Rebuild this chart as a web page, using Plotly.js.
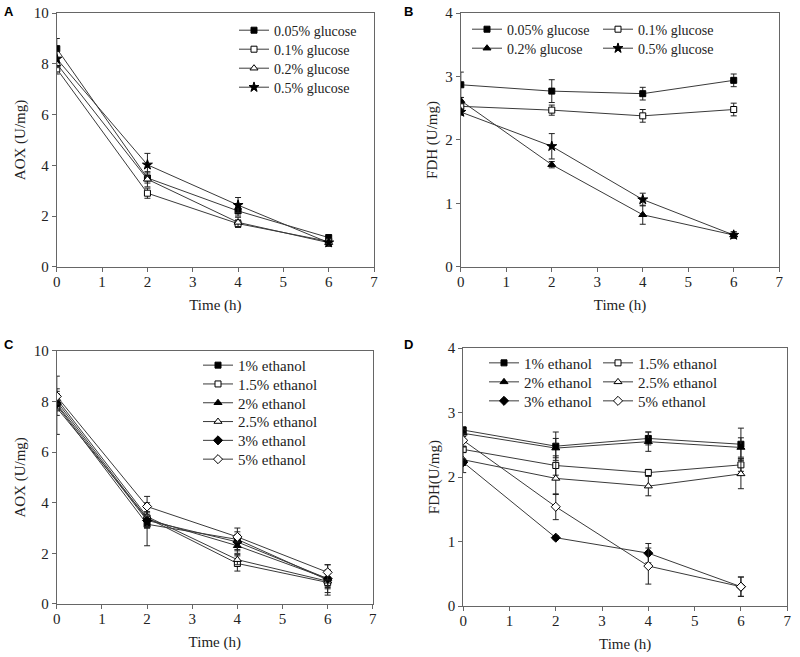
<!DOCTYPE html>
<html><head><meta charset="utf-8">
<script src="https://cdn.plot.ly/plotly-3.0.1.min.js"></script>
<style>html,body{margin:0;padding:0;background:#fff;overflow:hidden}</style>
</head><body><div id="chart" style="width:800px;height:657px"></div>
<script>
const time = [0, 2, 4, 6];

// Panel A: AOX, glucose
const glucoseNames = ["0.05% glucose", "0.1% glucose", "0.2% glucose", "0.5% glucose"];
const aoxGlucose = [
  [8.6, 3.5, 2.2, 1.15],
  [7.8, 2.9, 1.7, 1.0],
  [8.0, 3.45, 1.75, 0.95],
  [8.2, 4.02, 2.43, 0.95]
];
const aoxGlucoseErr = [
  [0.4, 0.2, 0.2, 0.1],
  [0.2, 0.2, 0.15, 0.1],
  [0.15, 0.3, 0.2, 0.1],
  [0.3, 0.45, 0.3, 0.15]
];

// Panel B: FDH, glucose
const fdhGlucose = [
  [2.87, 2.77, 2.73, 2.94],
  [2.53, 2.47, 2.38, 2.48],
  [2.62, 1.61, 0.82, 0.5],
  [2.44, 1.9, 1.06, 0.5]
];
const fdhGlucoseErr = [
  [0.2, 0.18, 0.1, 0.1],
  [0.05, 0.08, 0.1, 0.1],
  [0.05, 0.05, 0.15, 0.05],
  [0.05, 0.2, 0.1, 0.05]
];

// Panel C: AOX, ethanol
const ethanolNames = ["1% ethanol", "1.5% ethanol", "2% ethanol", "2.5% ethanol", "3% ethanol", "5% ethanol"];
const aoxEthanol = [
  [7.85, 3.15, 2.55, 0.95],
  [7.75, 3.4, 1.6, 0.85],
  [8.0, 3.35, 2.3, 1.0],
  [8.1, 3.45, 1.75, 0.9],
  [7.9, 3.3, 2.45, 1.0],
  [8.2, 3.85, 2.65, 1.25]
];
const aoxEthanolErr = [
  [1.15, 0.85, 0.45, 0.6],
  [0.3, 0.4, 0.3, 0.4],
  [0.3, 0.3, 0.3, 0.3],
  [0.3, 0.4, 0.2, 0.3],
  [0.2, 0.3, 0.3, 0.35],
  [0.3, 0.4, 0.2, 0.3]
];

// Panel D: FDH, ethanol
const fdhEthanol = [
  [2.73, 2.48, 2.6, 2.51],
  [2.43, 2.18, 2.07, 2.19],
  [2.68, 2.45, 2.55, 2.46],
  [2.27, 1.98, 1.86, 2.05],
  [2.23, 1.06, 0.82, 0.3],
  [2.57, 1.54, 0.62, 0.3]
];
const fdhEthanolErr = [
  [0.05, 0.22, 0.1, 0.25],
  [0.05, 0.15, 0.05, 0.1],
  [0.05, 0.15, 0.15, 0.15],
  [0.2, 0.25, 0.15, 0.23],
  [0.05, 0.03, 0.15, 0.15],
  [0.1, 0.2, 0.28, 0.15]
];

const glucoseSymbolsA = ["square", "square-open", "triangle-up-open", "star"];
const glucoseSymbolsB = ["square", "square-open", "triangle-up", "star"];
const ethanolSymbols = ["square", "square-open", "triangle-up", "triangle-up-open", "diamond", "diamond-open"];

const W = 800, H = 657;
const serif = "Liberation Serif, Times New Roman, serif";
const traces = [];
const layout = {
  width: W, height: H, showlegend: true,
  margin: {l: 0, r: 0, t: 0, b: 0, autoexpand: false},
  paper_bgcolor: "#fff", plot_bgcolor: "#fff"
};
let legendCount = 0;
// legend entry placed so its marker centre sits at (mx, my) in pixels
function legendAt(mx, my, fs) {
  legendCount++;
  const key = legendCount === 1 ? "legend" : "legend" + legendCount;
  layout[key] = {x: (mx - 20) / W, y: 1 - (my - 15.4) / H, xanchor: "left", yanchor: "top",
    font: {family: serif, size: fs, color: "#222"}, bgcolor: "rgba(0,0,0,0)", borderwidth: 0,
    itemwidth: 30, itemclick: false, visible: true};
  return key;
}
function addSeries(names, values, errs, symbols, xa, ya, legPos, fs) {
  names.forEach((n, i) => {
    const sym = symbols[i];
    const open = sym.endsWith("-open");
    const base = sym.replace("-open", "");
    const p = legPos(i);
    traces.push({
      type: "scatter", mode: "lines+markers",
      x: time, y: values[i], name: n, showlegend: true,
      xaxis: xa, yaxis: ya,
      legend: legendAt(p[0], p[1], fs),
      line: {color: "#3a3a3a", width: 1},
      marker: {symbol: base, size: base === "star" ? 7.5 : (base === "square" ? 6 : 7),
               color: open ? "#ffffff" : "#000000",
               line: {color: "#000000", width: 1}},
      error_y: {type: "data", array: errs[i], visible: true, color: "#222", thickness: 1, width: 3}
    });
  });
}
addSeries(glucoseNames, aoxGlucose, aoxGlucoseErr, glucoseSymbolsA, "x", "y",
  i => [254, 30 + 19 * i], 14);
addSeries(glucoseNames, fdhGlucose, fdhGlucoseErr, glucoseSymbolsB, "x2", "y2",
  i => [[487, 618][i % 2], 29 + 19 * Math.floor(i / 2)], 14);
addSeries(ethanolNames, aoxEthanol, aoxEthanolErr, ethanolSymbols, "x3", "y3",
  i => [218, 364.3 + 18.8 * i], 15);
addSeries(ethanolNames, fdhEthanol, fdhEthanolErr, ethanolSymbols, "x4", "y4",
  i => [[504, 618][i % 2], 362 + 19 * Math.floor(i / 2)], 15);

const tickFont = {family: serif, size: 15, color: "#222"};
function xaxis(domain, anchor) {
  return {domain: domain, anchor: anchor, range: [0, 7], dtick: 1, tick0: 0,
    showgrid: false, zeroline: false, showline: true, mirror: true, linecolor: "#666", linewidth: 1,
    ticks: "outside", ticklen: 4, tickcolor: "#666", tickfont: tickFont, ticklabelstandoff: -3,
    title: {text: "Time (h)", font: {family: serif, size: 15, color: "#222"}, standoff: 10}};
}
function yaxis(domain, anchor, max, dt, title) {
  return {domain: domain, anchor: anchor, range: [0, max], dtick: dt, tick0: 0,
    showgrid: false, zeroline: false, showline: true, mirror: true, linecolor: "#666", linewidth: 1,
    ticks: "outside", ticklen: 4, tickcolor: "#666", tickfont: tickFont,
    title: {text: title, font: {family: serif, size: 15, color: "#222"}, standoff: 4}};
}
Object.assign(layout, {
  xaxis: xaxis([0.071, 0.4675], "y"),
  yaxis: yaxis([0.594, 0.980], "x", 10, 2, "AOX (U/mg)"),
  xaxis2: xaxis([0.576, 0.974], "y2"),
  yaxis2: yaxis([0.594, 0.980], "x2", 4, 1, "FDH (U/mg)"),
  xaxis3: xaxis([0.071, 0.466], "y3"),
  yaxis3: yaxis([0.0807, 0.466], "x3", 10, 2, "AOX (U/mg)"),
  xaxis4: xaxis([0.579, 0.984], "y4"),
  yaxis4: yaxis([0.0776, 0.470], "x4", 4, 1, "FDH(U/mg)"),
  annotations: ["A", "B", "C", "D"].map((t, i) => ({
    text: "<b>" + t + "</b>", xref: "paper", yref: "paper", showarrow: false,
    x: [0.003, 0.503, 0.003, 0.503][i], y: [0.997, 0.997, 0.49, 0.49][i],
    xanchor: "left", yanchor: "top",
    font: {family: "Liberation Sans, Arial, sans-serif", size: 13, color: "#000"}
  }))
});

Plotly.newPlot("chart", traces, layout, {staticPlot: true});
</script></body></html>
